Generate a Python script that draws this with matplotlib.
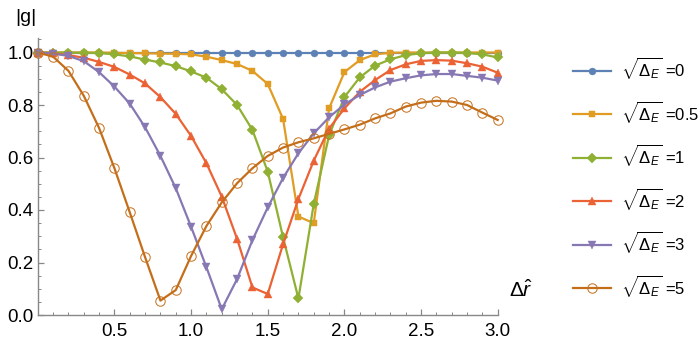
import matplotlib
matplotlib.use("Agg")
import matplotlib.pyplot as plt
from matplotlib.ticker import MultipleLocator, FixedLocator

plt.rcParams['font.family'] = ['Liberation Sans', 'DejaVu Sans']
plt.rcParams['mathtext.fontset'] = 'custom'
plt.rcParams['mathtext.rm'] = 'Liberation Sans'
plt.rcParams['mathtext.it'] = 'Liberation Sans:italic'
plt.rcParams['mathtext.bf'] = 'Liberation Sans:bold'

x = [0.0, 0.1, 0.2, 0.3, 0.4, 0.5, 0.6, 0.7, 0.8, 0.9, 1.0,
     1.1, 1.2, 1.3, 1.4, 1.5, 1.6, 1.7, 1.8, 1.9, 2.0,
     2.1, 2.2, 2.3, 2.4, 2.5, 2.6, 2.7, 2.8, 2.9, 3.0]

g_0 = [1.0] * 31
g_05 = [1.0, 1.0, 1.0, 1.0, 1.0, 0.999, 0.998, 0.997, 0.996, 0.995, 0.993,
        0.984, 0.971, 0.956, 0.930, 0.880, 0.747, 0.375, 0.350, 0.787, 0.925,
        0.971, 0.993, 0.999, 1.0, 1.0, 1.0, 1.0, 1.0, 1.0, 1.0]
g_1 = [1.0, 1.0, 1.0, 0.999, 0.998, 0.993, 0.985, 0.973, 0.962, 0.948, 0.928,
       0.904, 0.860, 0.800, 0.705, 0.546, 0.296, 0.063, 0.423, 0.684, 0.830,
       0.905, 0.950, 0.974, 0.990, 0.997, 1.0, 1.0, 0.998, 0.993, 0.981]
g_2 = [1.0, 0.997, 0.990, 0.980, 0.964, 0.945, 0.916, 0.882, 0.830, 0.766, 0.682,
       0.578, 0.451, 0.290, 0.105, 0.080, 0.270, 0.442, 0.588, 0.710, 0.787,
       0.850, 0.895, 0.933, 0.955, 0.968, 0.971, 0.969, 0.959, 0.946, 0.923]
g_3 = [1.0, 0.996, 0.987, 0.967, 0.925, 0.870, 0.805, 0.715, 0.606, 0.483, 0.336,
       0.182, 0.022, 0.137, 0.285, 0.410, 0.522, 0.616, 0.692, 0.753, 0.802,
       0.838, 0.867, 0.889, 0.902, 0.913, 0.918, 0.918, 0.911, 0.904, 0.893]
g_5 = [1.0, 0.984, 0.930, 0.835, 0.712, 0.559, 0.391, 0.220, 0.055, 0.095, 0.225,
       0.339, 0.429, 0.502, 0.559, 0.606, 0.638, 0.658, 0.673, 0.690, 0.707,
       0.725, 0.749, 0.768, 0.794, 0.809, 0.816, 0.813, 0.800, 0.771, 0.743]

labels = ['0', '0.5', '1', '2', '3', '5']
series = [g_0, g_05, g_1, g_2, g_3, g_5]
colors = ['#5E81B5', '#E19C24', '#8FB032', '#EB6235', '#8778B3', '#C56E1A']
markers = ['o', 's', 'D', '^', 'v', 'o']
msizes = [5.0, 3.8, 4.6, 5.4, 5.4, 6.8]

fig = plt.figure(figsize=(7, 3.5), dpi=100)
ax = fig.add_axes([0.054, 0.10, 0.657, 0.792])

handles = []
for ys, lab, c, m, ms in zip(series, labels, colors, markers, msizes):
    open_m = (lab == '5')
    h, = ax.plot(x, ys, color=c, lw=1.6, marker=m, ms=ms,
                 markerfacecolor='none' if open_m else c,
                 markeredgecolor=c, markeredgewidth=0.7 if open_m else 0.3,
                 label=r'$\sqrt{\Delta_E}$ =' + lab, clip_on=False)
    handles.append(h)

ax.set_xlim(0, 3.0)
ax.set_ylim(0, 1.056)
for s in ['top', 'right']:
    ax.spines[s].set_visible(False)
for s in ['left', 'bottom']:
    ax.spines[s].set_color('#888888')
    ax.spines[s].set_linewidth(1.0)

ax.xaxis.set_major_locator(FixedLocator([0.5, 1.0, 1.5, 2.0, 2.5, 3.0]))
ax.xaxis.set_minor_locator(MultipleLocator(0.1))
ax.yaxis.set_major_locator(MultipleLocator(0.2))
ax.yaxis.set_minor_locator(MultipleLocator(0.05))
ax.xaxis.set_major_formatter(plt.FuncFormatter(lambda v, p: f'{v:.1f}'))
ax.yaxis.set_major_formatter(plt.FuncFormatter(lambda v, p: f'{v:.1f}'))
ax.tick_params(which='both', direction='in', color='#888888', labelsize=13.5)
ax.tick_params(which='major', length=4.5, width=0.9)
ax.tick_params(which='minor', length=2.5, width=0.7)
ax.tick_params(axis='x', pad=6)
ax.tick_params(axis='y', pad=3)

fig.text(0.037, 0.95, '|g|', fontsize=14, ha='center', va='center')
fig.text(0.744, 0.17, r'$\Delta\hat{r}$', fontsize=15, ha='center', va='center')

leg = fig.legend(handles=handles, loc='center left', bbox_to_anchor=(0.797, 0.494),
                 frameon=False, fontsize=12, handlelength=2.3, handletextpad=0.6,
                 labelspacing=1.05)

fig.savefig('out.png', dpi=100)
